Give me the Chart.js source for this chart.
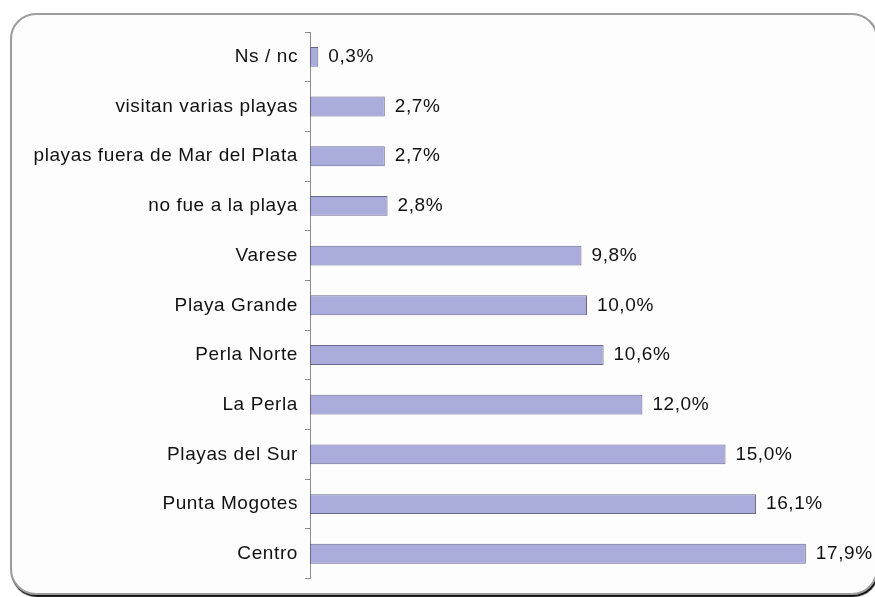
<!DOCTYPE html>
<html>
<head>
<meta charset="utf-8">
<script src="https://cdn.jsdelivr.net/npm/chart.js@4/dist/chart.umd.min.js"></script>
<style>
  html, body { margin: 0; padding: 0; background: #ffffff; }
  #wrap { position: relative; width: 875px; height: 597px; overflow: hidden; background: #ffffff; }
  #frame {
    position: absolute; left: 10px; top: 13px; width: 864px; height: 578px;
    border: 2px solid #9c9c9c; border-radius: 26px;
    box-shadow: 1px 2px 1px #111;
    background: #fdfdfd;
  }
  #chart { position: absolute; left: 0; top: 0; }
</style>
</head>
<body>
<div id="wrap">
  <div id="frame"></div>
  <canvas id="chart" width="875" height="597"></canvas>
</div>
<script>
// Playas visitadas (% de respuestas)
const categories = [
  'Ns / nc',
  'visitan varias playas',
  'playas fuera de Mar del Plata',
  'no fue a la playa',
  'Varese',
  'Playa Grande',
  'Perla Norte',
  'La Perla',
  'Playas del Sur',
  'Punta Mogotes',
  'Centro'
];
const values = [0.3, 2.7, 2.7, 2.8, 9.8, 10.0, 10.6, 12.0, 15.0, 16.1, 17.9];
const xMax = 20;

const FONT = '"Liberation Sans", Arial, sans-serif';
const FONT_SIZE = 19;
const SPACING = '0.6px';

const fmt = v => v.toFixed(1).replace('.', ',') + '%';

// Slightly widened lettering for all chart text
const wideText = {
  id: 'wideText',
  beforeDraw(chart) { chart.ctx.letterSpacing = SPACING; }
};

// Writes the percentage just past the end of each bar
const valueLabels = {
  id: 'valueLabels',
  afterDatasetsDraw(chart) {
    const ctx = chart.ctx;
    const meta = chart.getDatasetMeta(0);
    ctx.save();
    ctx.letterSpacing = SPACING;
    ctx.font = FONT_SIZE + 'px ' + FONT;
    ctx.fillStyle = '#111111';
    ctx.textAlign = 'left';
    ctx.textBaseline = 'middle';
    meta.data.forEach((bar, i) => {
      ctx.fillText(fmt(values[i]), bar.x + 10, bar.y);
    });
    ctx.restore();
  }
};

new Chart(document.getElementById('chart'), {
  type: 'bar',
  data: {
    labels: categories,
    datasets: [{
      data: values,
      backgroundColor: '#aaaddc',
      borderColor: '#686890',
      borderWidth: 1,
      borderSkipped: false,
      barPercentage: 0.4,
      categoryPercentage: 1.0
    }]
  },
  options: {
    indexAxis: 'y',
    responsive: false,
    animation: false,
    layout: { padding: { top: 32, bottom: 17, right: 11, left: 0 } },
    plugins: {
      legend: { display: false },
      tooltip: { enabled: false }
    },
    scales: {
      x: {
        display: false,
        min: 0,
        max: xMax
      },
      y: {
        offset: true,
        afterFit(scale) { scale.width = 310; },
        grid: {
          offset: true,
          drawOnChartArea: false,
          drawTicks: true,
          tickLength: 5,
          color: '#8a8a8a',
          lineWidth: 1
        },
        border: { display: true, color: '#8a8a8a', width: 1 },
        ticks: {
          padding: 7,
          color: '#111111',
          font: { family: FONT, size: FONT_SIZE }
        }
      }
    }
  },
  plugins: [wideText, valueLabels]
});
</script>
</body>
</html>
